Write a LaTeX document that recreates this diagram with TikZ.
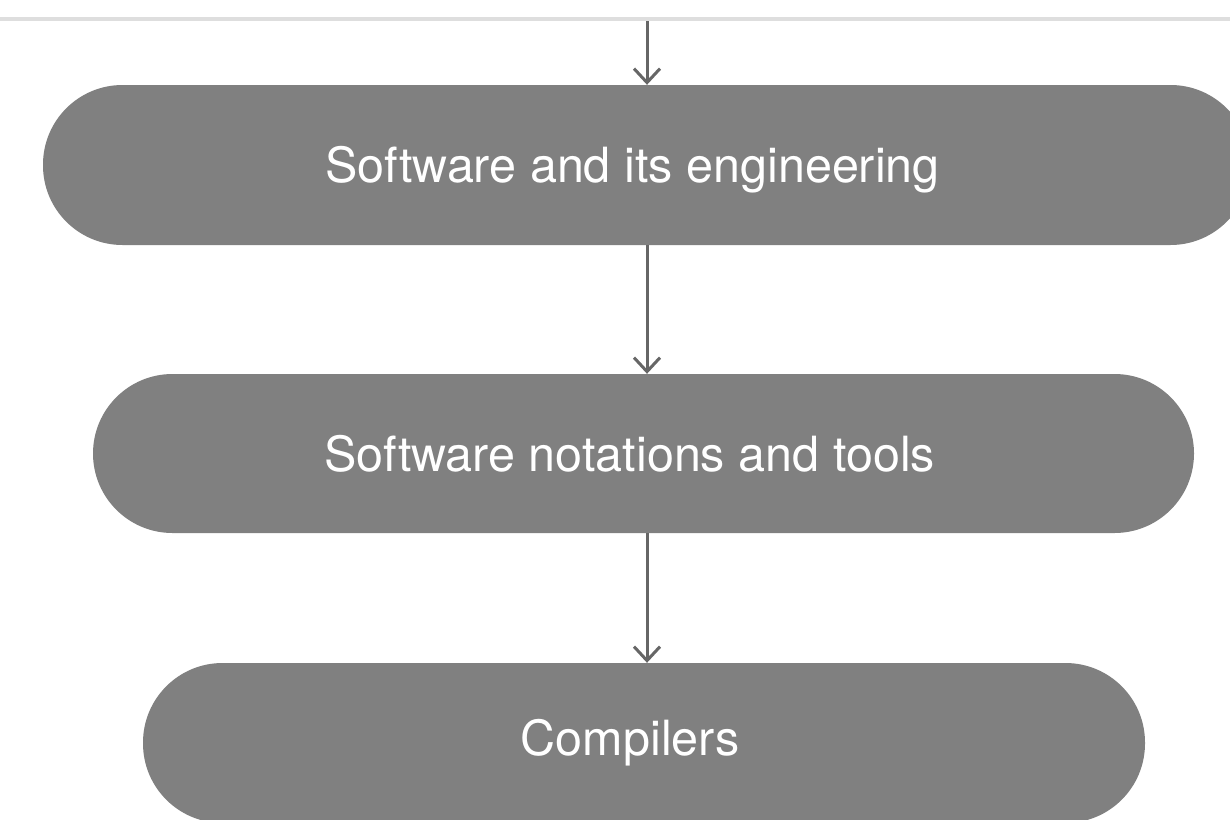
\documentclass[tikz,border=0pt]{standalone}
\usepackage{fontspec}
\setmainfont{TeX Gyre Heros}
\usetikzlibrary{arrows.meta}
\definecolor{boxgray}{HTML}{808080}
\definecolor{linegray}{HTML}{666666}
\definecolor{rulegray}{HTML}{DEDEDE}
\tikzset{
  pill/.style={fill=boxgray, draw=none, rounded corners=79.5pt, text=white,
    font=\fontsize{48.5}{52}\selectfont, inner sep=0pt},
  arr/.style={draw=linegray, line width=3pt,
    -{Straight Barb[length=14pt,width=26pt,line width=3pt]}}
}
\newcommand{\pilltextshift}[1]{#1\hspace*{28pt}}
\begin{document}
\begin{tikzpicture}[x=1pt,y=-1pt]
\useasboundingbox (0,0) rectangle (1230,819);
\clip (0,0) rectangle (1230,819);
\fill[white] (0,0) rectangle (1230,819);
\coordinate (ruleL) at (0,19);
\coordinate (ruleR) at (1230,19);
\draw[rulegray, line width=4pt] (ruleL) -- (ruleR);
\node[pill, minimum width=1207pt, minimum height=160pt, text depth=2pt] (n1) at (646.5,165) {\pilltextshift{Software and its engineering}};
\node[pill, minimum width=1101pt, minimum height=159pt] (n2) at (643.5,453.5) {\pilltextshift{Software notations and tools}};
\node[pill, minimum width=1002pt, minimum height=160pt] (n3) at (644,743) {\pilltextshift{Compilers}};
\coordinate (top) at (647,21);
\draw[arr] (top) -- (top |- n1.north);
\draw[arr] (top |- n1.south) -- (top |- n2.north);
\draw[arr] (top |- n2.south) -- (top |- n3.north);
\end{tikzpicture}
\end{document}
